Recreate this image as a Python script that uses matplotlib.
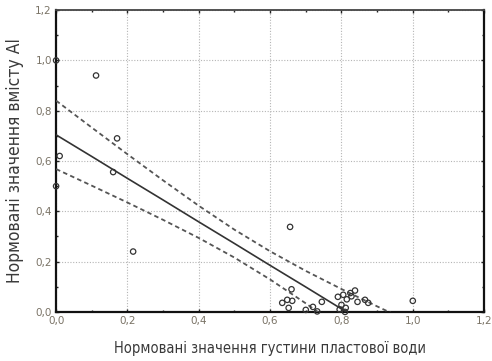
import matplotlib
matplotlib.use("Agg")
import matplotlib.pyplot as plt
from matplotlib.ticker import MultipleLocator

# ---- Data: normalised water density vs normalised Al content ----
density = [0.00, 0.112, 0.171, 0.010, 0.160, 0.000, 0.216, 0.656, 0.660,
           0.634, 0.648, 0.662, 0.652, 0.700, 0.720, 0.745, 0.732,
           0.790, 0.805, 0.815, 0.825, 0.838, 0.800, 0.812, 0.845,
           0.866, 0.875, 0.810, 0.795, 0.828, 1.000]
al_content = [1.00, 0.940, 0.690, 0.620, 0.556, 0.500, 0.240, 0.338, 0.090,
              0.036, 0.048, 0.044, 0.016, 0.008, 0.020, 0.040, 0.002,
              0.060, 0.068, 0.050, 0.075, 0.085, 0.028, 0.016, 0.040,
              0.048, 0.036, 0.000, 0.010, 0.062, 0.044]

# regression line and 95% confidence band, sampled along x
band_x = [0.0, 0.1, 0.2, 0.3, 0.4, 0.5, 0.6, 0.7, 0.8, 0.9, 1.0]
fit_y = [0.704, 0.618, 0.531, 0.445, 0.358, 0.272, 0.185, 0.099, 0.012, -0.075, -0.161]
upper_y = [0.840, 0.733, 0.627, 0.523, 0.422, 0.327, 0.241, 0.163, 0.091, 0.022, -0.045]
lower_y = [0.568, 0.502, 0.435, 0.366, 0.294, 0.216, 0.129, 0.034, -0.067, -0.171, -0.277]

x_ticks = [0.0, 0.2, 0.4, 0.6, 0.8, 1.0, 1.2]
y_ticks = [0.0, 0.2, 0.4, 0.6, 0.8, 1.0, 1.2]

fig = plt.figure(figsize=(4.92, 3.61), dpi=100)
ax = fig.add_axes([0.114, 0.136, 0.870, 0.836])

ax.plot(band_x, fit_y, color="#333333", lw=1.2, zorder=3)
ax.plot(band_x, upper_y, color="#555555", lw=1.3, ls=(0, (2.5, 1.8)), zorder=3)
ax.plot(band_x, lower_y, color="#555555", lw=1.3, ls=(0, (2.5, 1.8)), zorder=3)

ax.scatter(density, al_content, s=15, facecolors="none", edgecolors="#333333",
           linewidths=0.9, zorder=4, clip_on=False)

ax.set_xlim(0, 1.2)
ax.set_ylim(0, 1.2)
ax.set_xticks(x_ticks)
ax.set_yticks(y_ticks)
ax.xaxis.set_minor_locator(MultipleLocator(0.1))
ax.yaxis.set_minor_locator(MultipleLocator(0.1))
ax.set_xticklabels([f"{v:.1f}".replace(".", ",") for v in x_ticks])
ax.set_yticklabels([f"{v:.1f}".replace(".", ",") for v in y_ticks])

ax.tick_params(which="both", direction="in", top=True, right=True,
               length=2.5, width=1, color="#222222")
ax.tick_params(which="minor", length=1.5)
ax.tick_params(labelsize=7.5, labelcolor="#7a7366", pad=3)

ax.grid(True, which="major", color="#b5b5b5", ls=(0, (1, 1.5)), lw=0.8)
ax.set_axisbelow(True)

for side in ["left", "bottom", "right"]:
    ax.spines[side].set_linewidth(1.6)
    ax.spines[side].set_color("#111111")
ax.spines["top"].set_linewidth(1.3)
ax.spines["top"].set_color("#444444")

ax.set_xlabel("Нормовані значення густини пластової води", family="DejaVu Sans",
              fontstretch="condensed", fontsize=10.5, color="#3a3a3a", labelpad=11)
ax.set_ylabel("Нормовані значення вмісту Al", family="DejaVu Sans",
              fontstretch="condensed", fontsize=12.5, color="#3a3a3a", labelpad=8)

fig.savefig("out.png", dpi=100, facecolor="white")
